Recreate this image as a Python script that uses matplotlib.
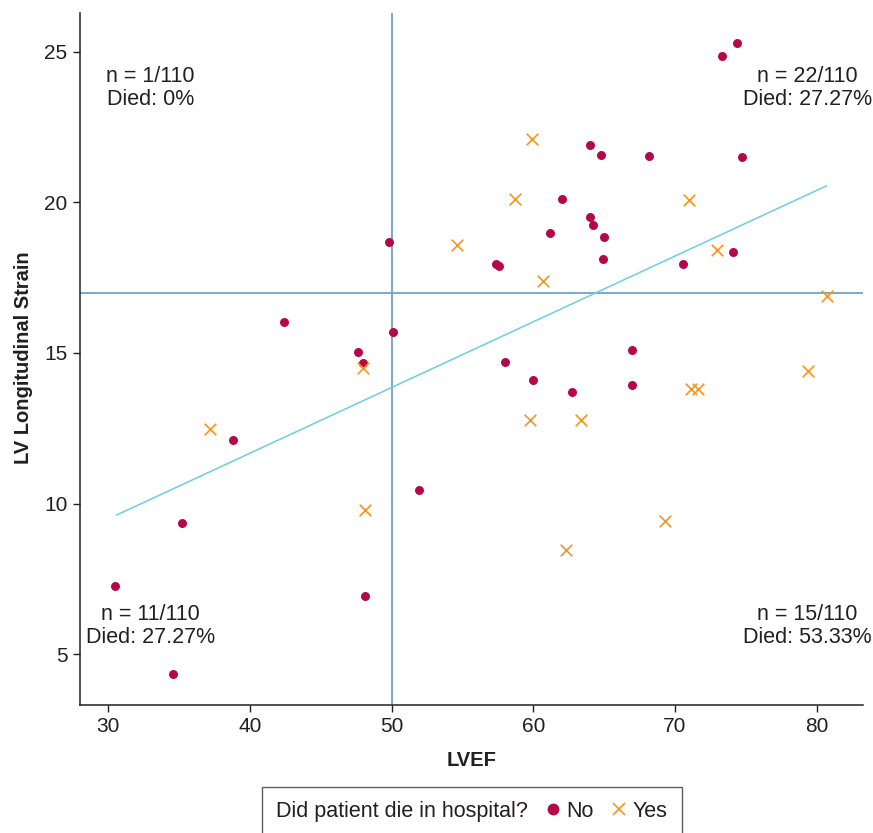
import matplotlib
matplotlib.use("Agg")
import matplotlib.pyplot as plt
from matplotlib.lines import Line2D
from matplotlib.offsetbox import HPacker

plt.rcParams['font.family'] = ['Liberation Sans', 'DejaVu Sans']

# patients who survived (No)
no_lvef = [49.8, 42.4, 50.1, 47.6, 48.0, 38.8, 51.9, 35.2, 30.5, 48.1, 34.6,
           74.4, 73.3, 64.0, 64.8, 68.2, 74.7, 62.0, 64.0, 64.2, 61.2, 65.0,
           74.1, 57.4, 57.6, 64.9, 70.6, 67.0, 58.0, 60.0, 67.0, 62.7]
no_strain = [18.67, 16.02, 15.69, 15.02, 14.66, 12.11, 10.44, 9.36, 7.26, 6.92, 4.34,
             25.30, 24.87, 21.89, 21.56, 21.53, 21.51, 20.10, 19.50, 19.26, 18.97, 18.84,
             18.36, 17.97, 17.90, 18.12, 17.96, 15.09, 14.70, 14.10, 13.94, 13.71]

# patients who died in hospital (Yes)
yes_lvef = [48.0, 37.2, 48.1, 59.9, 58.7, 71.0, 54.6, 73.0, 60.7, 80.7,
            79.4, 71.1, 71.6, 59.8, 63.4, 69.3, 62.3]
yes_strain = [14.50, 12.46, 9.77, 22.10, 20.10, 20.08, 18.59, 18.42, 17.40, 16.88,
              14.40, 13.79, 13.80, 12.78, 12.78, 9.42, 8.47]

# fitted line end points and cut-offs
fit_lvef = [30.6, 80.7]
fit_strain = [9.62, 20.55]
lvef_cut = 50
strain_cut = 17

quadrant_text = {
    'tl': "n = 1/110\nDied: 0%",
    'tr': "n = 22/110\nDied: 27.27%",
    'bl': "n = 11/110\nDied: 27.27%",
    'br': "n = 15/110\nDied: 53.33%",
}

red = '#B5084B'
orange = '#F7941D'
cut_color = '#6FA3C4'
fit_color = '#6DCDE2'
txt = '#231F20'

fig = plt.figure(figsize=(8.73, 8.33), dpi=100)
ax = fig.add_axes([0.0916, 0.1537, 0.8964, 0.8311])

ax.axvline(lvef_cut, color=cut_color, lw=1.3, zorder=1)
ax.axhline(strain_cut, color=cut_color, lw=1.3, zorder=1)
ax.plot(fit_lvef, fit_strain, color=fit_color, lw=1.1, zorder=1)

ax.scatter(no_lvef, no_strain, s=42, color=red, marker='o', linewidths=0, zorder=3)
ax.scatter(yes_lvef, yes_strain, s=70, color=orange, marker='x', linewidths=1.2, zorder=3)

ax.set_xlim(28.0, 83.24)
ax.set_ylim(3.31, 26.3)
ax.set_xticks([30, 40, 50, 60, 70, 80])
ax.set_yticks([5, 10, 15, 20, 25])
ax.tick_params(labelsize=15, colors=txt, length=5, width=1, pad=4)
for s in ['top', 'right']:
    ax.spines[s].set_visible(False)
for s in ['left', 'bottom']:
    ax.spines[s].set_color(txt)
    ax.spines[s].set_linewidth(1.1)

kw = dict(ha='center', va='center', fontsize=15.5, color=txt, linespacing=1.12)
ax.text(32.98, 23.79, quadrant_text['tl'], **kw)
ax.text(79.34, 23.79, quadrant_text['tr'], **kw)
ax.text(32.98, 5.93, quadrant_text['bl'], **kw)
ax.text(79.34, 5.93, quadrant_text['br'], **kw)

fig.text(24 / 873, 1 - 358 / 833, 'LV Longitudinal Strain', rotation=90,
         ha='center', va='center', fontsize=14.5, fontweight='bold', color=txt)
fig.text(472 / 873, 1 - 761 / 833, 'LVEF', ha='center', va='center',
         fontsize=14.5, fontweight='bold', color=txt)

handles = [
    Line2D([], [], linestyle='none', marker='o', markersize=8.5, color=red,
           markeredgewidth=0, label='No'),
    Line2D([], [], linestyle='none', marker='x', markersize=8.5, color=orange,
           markeredgewidth=1.2, label='Yes'),
]
leg = fig.legend(handles=handles, loc='upper center', ncol=2,
                 title='Did patient die in hospital?', title_fontsize=15.5,
                 bbox_to_anchor=(472 / 873, 1 - 787 / 833), borderaxespad=0,
                 fontsize=15.5, frameon=True, fancybox=False, handlelength=0.7,
                 handletextpad=0.3, columnspacing=0.8, borderpad=0.65)
leg.get_frame().set_edgecolor('#333333')
leg.get_frame().set_linewidth(1.0)
for t in leg.get_texts():
    t.set_color(txt)
leg.get_title().set_color(txt)

# put the title beside the entries instead of above them
old = leg._legend_box
row = HPacker(pad=old.pad, sep=12, align='center', children=old.get_children())
row.set_figure(fig)
row.axes = leg.axes
row.set_offset(leg._findoffset)
leg._legend_box = row

fig.savefig('out.png', dpi=100)
